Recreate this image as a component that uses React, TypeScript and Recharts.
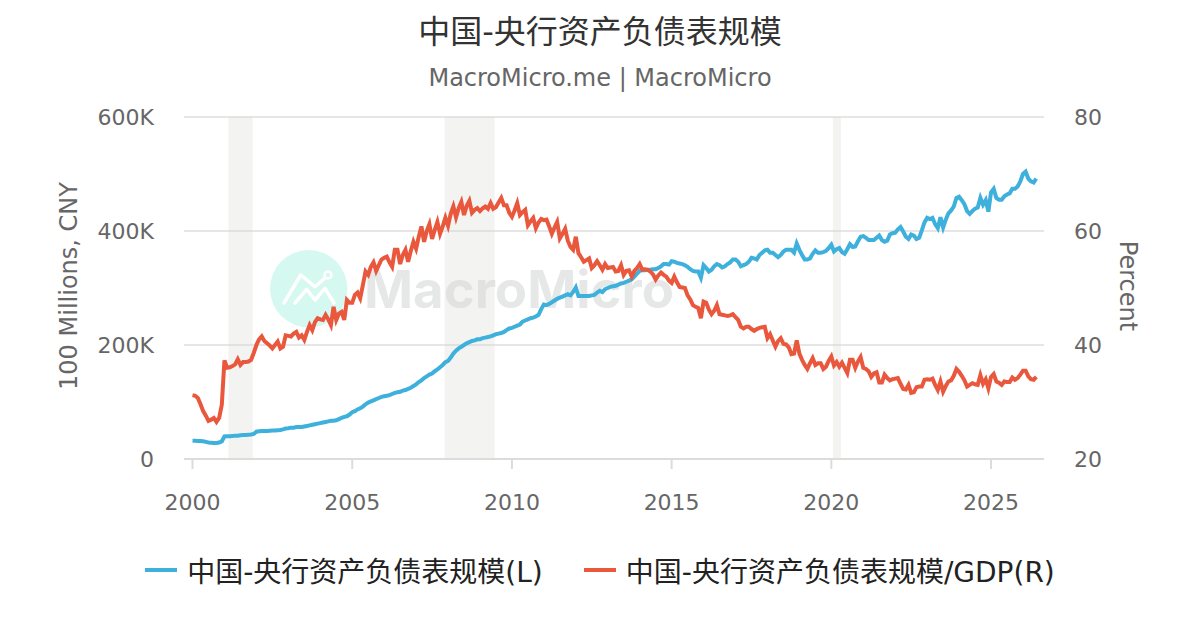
import React from 'react';
import { LineChart, Line, XAxis, YAxis, CartesianGrid, Legend, ReferenceArea } from 'recharts';

const FONT = '"DejaVu Sans", "Noto Sans CJK SC", sans-serif';
const TITLE = '中国-央行资产负债表规模';
const SUBTITLE = 'MacroMicro.me | MacroMicro';
const LEFT_NAME = '中国-央行资产负债表规模(L)';
const RIGHT_NAME = '中国-央行资产负债表规模/GDP(R)';
const BLUE = '#3eb0dc';
const RED = '#e9573d';

// monthly, starting 2000-01, one row per year (100 millions CNY, in K)
const balanceSheet = [
  32, 32, 31.5, 31.5, 31, 30, 29, 28.5, 28, 28, 29, 31,
  39.5, 40, 40, 40.5, 41, 41, 41.5, 42, 42, 42.5, 43, 44,
  48, 48.5, 49, 49, 49, 49.5, 50, 50, 50.5, 51, 52, 53.5,
  54, 55, 55, 56, 56, 56, 57, 58, 59, 60, 61, 62,
  63, 64, 65, 66, 67, 67, 68, 70, 72, 74, 75, 78,
  82, 84, 87, 89, 92, 96, 99, 101, 103, 105, 107, 109,
  110, 111, 112, 114, 116, 117, 118, 120, 121, 123, 125, 128,
  131, 135, 138, 142, 145, 148, 150, 154, 157, 161, 165, 170,
  172, 178, 185, 190, 194, 197, 200, 203, 205, 207, 208, 210,
  210, 212, 213, 214, 215, 217, 219, 220, 221, 223, 226, 229,
  230, 232, 234, 236, 241, 243, 245, 247, 248, 250, 253, 263,
  271, 270, 272, 275, 278, 281, 283, 285, 287, 289, 287, 293,
  301, 286, 286, 286, 286, 286, 287, 288, 292, 295, 293, 298,
  300, 302, 303, 304, 306, 308, 309, 311, 313, 315, 320, 325,
  330, 331, 331, 332, 332, 333, 333, 335, 338, 342, 342, 341,
  347, 346, 344, 343, 342, 340, 337, 333, 330, 329, 329, 318,
  340, 335, 329, 332, 338, 342, 340, 336, 338, 342, 345, 350,
  350, 346, 338, 340, 342, 346, 353, 352, 350, 358, 362, 366,
  367, 362, 362, 358, 354, 358, 364, 367, 367, 367, 362, 378,
  367, 358, 350, 350, 352, 360, 366, 362, 362, 363, 365, 370,
  376, 364, 368, 370, 363, 360, 368, 377, 372, 373, 382, 390,
  391, 388, 384, 384, 384, 388, 392, 384, 381, 383, 394, 396,
  397, 403, 407, 399, 390, 386, 394, 392, 386, 388, 401, 415,
  423, 421, 423, 412, 405, 424, 406, 420, 431, 436, 443, 458,
  460, 454, 447, 435, 430, 435, 439, 441, 458, 446, 454, 434,
  468, 474, 458, 455, 455, 461, 464, 466, 474, 474, 478, 487,
  500, 504, 492, 487, 485, 492,
];

// same months, percent of GDP
const gdpRatio = [
  31.2, 31.1, 30.7, 29.6, 28.4, 27.6, 26.7, 26.9, 27.2, 26.5, 27.2, 29.5,
  37.3, 36, 36.1, 36.3, 36.6, 37.5, 36.5, 37, 37, 37.1, 37.4, 38.6,
  40, 41, 41.5, 40.7, 40.3, 39.9, 39.4, 40, 40.6, 39.4, 39.7, 41.7,
  41.6, 41.5, 42, 42.3, 41.3, 41.7, 40.9, 42.3, 43.5, 42.6, 44, 44.7,
  44.5, 44.4, 45.3, 44.5, 43.5, 46.7, 44.4, 45.5, 45.8, 44.4, 47.9, 47.4,
  47.4, 48.8, 49.2, 48.2, 50.5, 52.9, 52.3, 53.7, 54.5, 53, 54, 55,
  55.3, 55.5, 54.5, 53.7, 56.7, 56.7, 54.2, 55.8, 56.7, 54.6, 56.5, 58.1,
  56.9, 59, 60.8, 58.1, 60, 61.2, 58.6, 60.2, 61.6, 59.5, 60.8, 62.3,
  60.9, 63, 64.3, 62.4, 64, 65.1, 62.8, 64.4, 65.3, 63.2, 63.7, 64,
  63.5, 64, 64.3, 63.9, 64.9, 63.9, 64.2, 65, 65.8, 64.5, 64.5, 63.2,
  62.5, 63.6, 64.9, 62.8, 63.3, 63.7, 61, 61.7, 62.3, 60.5, 61.5, 62.1,
  61.9, 62, 60.8, 59.5, 60.6, 61.6, 58.7, 59.5, 60.4, 58.3, 57.2, 56.7,
  59, 56.1, 55.4, 54.6, 54.9, 55.2, 53.5, 54, 54.7, 54, 53.2, 54.2,
  53.5, 53.6, 53.7, 52.9, 53, 54, 52.3, 53, 53.1, 52, 53, 53.5,
  54.2, 53.2, 53.3, 53.2, 52.9, 52.4, 51.5, 52.2, 52.7, 52.3, 52, 51.3,
  50.9, 52, 51, 50.2, 50.1, 50, 48.7, 48, 47, 46.7, 46.5, 44.7,
  47.6, 47.4, 46.2, 45.4, 46, 47, 45.4, 45.3, 45.2, 45.1, 45.2, 45.4,
  44.9, 44.4, 43.2, 42.9, 43.2, 43.2, 42.8, 42.5, 42.8, 43, 43.1, 43.2,
  41.2, 41.9, 40.8, 39.7, 40.7, 41.2, 40.2, 40.1, 39.6, 38.4, 38.5, 40.8,
  38.5, 37.4, 36.5, 35.8, 36.8, 37.7, 36.5, 36.8, 36.8, 35.8, 36.2, 37.2,
  38, 36.4, 37, 36.2, 36.9, 36, 35.1, 37.4, 37.4, 36, 37.1, 37.9,
  36, 35.8, 35.4, 34.4, 35, 35.2, 33.4, 33.4, 34.8, 34.2, 33.8, 34,
  34.1, 34.2, 33.2, 32.3, 32.2, 33, 31.6, 31.7, 32.6, 32.7, 32.7, 33.9,
  34, 33.9, 34.1, 33, 32.1, 33.6, 31.8, 32.8, 33.6, 33.8, 34.6, 35.8,
  35.3, 34.6, 33.8, 32.7, 33, 33.3, 33.1, 33, 34.7, 33.2, 34, 32.4,
  34.4, 34.9, 33.6, 33.4, 33, 33.6, 33.5, 33.5, 34.3, 33.9, 34.2, 34.8,
  35.5, 35.5, 34.5, 34, 33.9, 34.4,
];

const leftTicks = [0, 200, 400, 600];
const rightTicks = [20, 40, 60, 80];
const yearTicks = [0, 60, 120, 180, 240, 300];
// recession bands, in months since 2000-01
const bandStarts = [13.5, 94.7, 240.6];
const bandEnds = [22.6, 113.5, 243.6];

const data = balanceSheet.map((v, i) => ({ month: i, sheet: v, ratio: gdpRatio[i] }));

const Watermark = () => (
  <svg width={1200} height={630} style={{ position: 'absolute', left: 0, top: 0 }}>
    <circle cx={308.7} cy={288.7} r={38.7} fill="#d5f8f1" />
    <polyline points="284,303 300.7,275 315,286.7 325,278" fill="none" stroke="#fff" strokeWidth={3.5} strokeLinecap="round" strokeLinejoin="round" />
    <polyline points="295,303 306.7,289.3 315,300 325,288.3 334,303" fill="none" stroke="#fff" strokeWidth={3.5} strokeLinecap="round" strokeLinejoin="round" />
    <circle cx={328} cy={275} r={3.5} fill="none" stroke="#fff" strokeWidth={2.5} />
    <text x={364} y={308} fontFamily="Inter, sans-serif" fontWeight={700} fontSize={52} fill="#e6e7e7" textLength={310} lengthAdjust="spacingAndGlyphs">MacroMicro</text>
  </svg>
);

const LegendRow = () => (
  <div style={{ display: 'flex', justifyContent: 'center', alignItems: 'center', fontSize: 28, color: '#222', fontFamily: FONT, height: 40 }}>
    {[[LEFT_NAME, BLUE], [RIGHT_NAME, RED]].map(([name, color], i) => (
      <div key={name} style={{ display: 'flex', alignItems: 'center', marginLeft: i ? 41 : 0 }}>
        <span style={{ width: 32, height: 4, background: color, marginRight: 10 }} />
        <span>{name}</span>
      </div>
    ))}
  </div>
);

export default function App() {
  const tickStyle = { fontSize: 22, fill: '#666', fontFamily: FONT };
  const axisLabel = { fontSize: 24, fill: '#666', fontFamily: FONT, textAnchor: 'middle' as const };
  return (
    <div style={{ position: 'absolute', left: 0, top: 0, width: 1200, height: 630, background: '#fff', overflow: 'hidden', fontFamily: FONT }}>
      <Watermark />
      <div style={{ position: 'absolute', top: 11, width: 1200, textAlign: 'center', fontSize: 32, color: '#333', lineHeight: '42px' }}>{TITLE}</div>
      <div style={{ position: 'absolute', top: 62, width: 1200, textAlign: 'center', fontSize: 24, color: '#666', lineHeight: '32px' }}>{SUBTITLE}</div>
      <div style={{ position: 'absolute', left: 0, top: 0 }}>
        <LineChart width={1200} height={630} data={data} margin={{ top: 117, right: 84, bottom: 91, left: 84 }}>
          <CartesianGrid vertical={false} stroke="#e6e6e6" strokeWidth={2} yAxisId="left" />
          {bandStarts.map((s, i) => (
            <ReferenceArea key={s} x1={s} x2={bandEnds[i]} yAxisId="left" fill="#d8d8d4" fillOpacity={0.3} stroke="none" />
          ))}
          <XAxis
            dataKey="month"
            type="number"
            domain={[-3.2, 319.9]}
            ticks={yearTicks}
            tickFormatter={(m: number) => String(2000 + m / 12)}
            tick={tickStyle}
            tickSize={10}
            tickMargin={25}
            height={40}
            stroke="#dcdcdc"
            strokeWidth={2}
            interval={0}
          />
          <YAxis
            yAxisId="left"
            domain={[0, 600]}
            ticks={leftTicks}
            tickFormatter={(v: number) => (v === 0 ? '0' : `${v}K`)}
            tick={tickStyle}
            tickSize={0}
            tickMargin={30}
            axisLine={false}
            tickLine={false}
            width={100}
            label={{ value: '100 Millions, CNY', angle: -90, position: 'insideLeft', offset: 0, style: axisLabel, dx: -16, dy: -2 }}
          />
          <YAxis
            yAxisId="right"
            orientation="right"
            domain={[20, 80]}
            ticks={rightTicks}
            tick={tickStyle}
            tickSize={0}
            tickMargin={30}
            axisLine={false}
            tickLine={false}
            width={72}
            label={{ value: 'Percent', angle: 90, position: 'insideRight', offset: 0, style: axisLabel, dx: 13, dy: -2 }}
          />
          <Line yAxisId="left" type="linear" dataKey="sheet" name={LEFT_NAME} stroke={BLUE} strokeWidth={4} dot={false} isAnimationActive={false} />
          <Line yAxisId="right" type="linear" dataKey="ratio" name={RIGHT_NAME} stroke={RED} strokeWidth={4} dot={false} isAnimationActive={false} />
          <Legend verticalAlign="bottom" content={<LegendRow />} wrapperStyle={{ bottom: 40 }} />
        </LineChart>
      </div>
    </div>
  );
}
